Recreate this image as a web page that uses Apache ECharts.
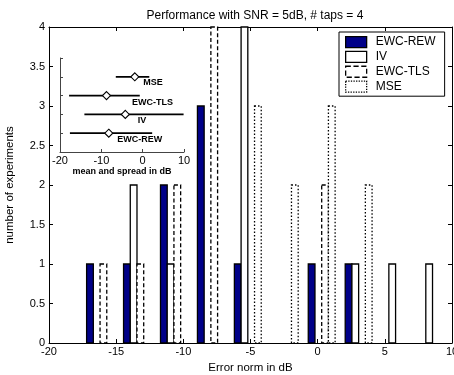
<!DOCTYPE html>
<html><head><meta charset="utf-8">
<script src="https://cdn.jsdelivr.net/npm/echarts@6/dist/echarts.min.js"></script>
<style>html,body{margin:0;padding:0;background:#fff}#c{width:454px;height:375px}</style>
</head><body><div id="c"></div>
<script>
// ---- data ----
const binCenters = [-16.2, -13.45, -10.7, -7.95, -5.2, -2.45, 0.3, 3.05, 5.8, 8.55];
const seriesNames = ['EWC-REW', 'IV', 'EWC-TLS', 'MSE'];
const rewCounts = [1, 1, 2, 3, 1, 0, 1, 1, 0, 0];
const ivCounts  = [0, 2, 1, 0, 4, 0, 0, 1, 1, 1];
const tlsCounts = [1, 1, 2, 4, 0, 0, 2, 0, 0, 0];
const mseCounts = [0, 0, 0, 0, 3, 2, 3, 2, 0, 0];

const insetNames = ['EWC-REW', 'IV', 'EWC-TLS', 'MSE'];
const insetMin  = [-17.6, -14.1, -17.8, -6.5];
const insetMax  = [2.3, 9.9, -0.7, 1.6];
const insetMean = [-8.2, -4.2, -8.75, -1.9];

const titleText = 'Performance with SNR = 5dB, # taps = 4';
const xName = 'Error norm in dB';
const yName = 'number of experiments';
const insetXName = 'mean and spread in dB';

// ---- styles / layout ----
const FONT = '"Liberation Sans", Arial, Helvetica, sans-serif';
const NAVY = '#000088';
const barStyles = [
  {fill: NAVY, dash: null, type: 'solid'},
  {fill: '#fff', dash: null, type: 'solid'},
  {fill: '#fff', dash: [4, 2.5], type: 'dashed'},
  {fill: '#fff', dash: [1.5, 2], type: 'dotted'}
];
const labelOffsets = [[8, 6], [12, 6], [25, 6.5], [8, 6]];

const allCounts = [rewCounts, ivCounts, tlsCounts, mseCounts];
const binW = binCenters[1] - binCenters[0];
const barW = binW / 5.5;  // grouped bars: 4 bars fill 4/5.5 of a bin

function makeBarSeries(k) {
  const st = barStyles[k];
  const data = binCenters.map((c, i) => [c + (k - 1.5) * barW, allCounts[k][i]]);
  return {
    type: 'custom', name: seriesNames[k], xAxisIndex: 0, yAxisIndex: 0,
    itemStyle: {color: st.fill, borderColor: '#000', borderWidth: 1.3, borderType: st.type},
    data: data, z: 3,
    renderItem: function (params, api) {
      const x = api.value(0), n = api.value(1);
      if (!n) return null;
      const p0 = api.coord([x - barW / 2, 0]);
      const p1 = api.coord([x + barW / 2, n]);
      return {
        type: 'rect',
        shape: {x: p0[0], y: p1[1], width: p1[0] - p0[0], height: p0[1] - p1[1]},
        style: {fill: st.fill, stroke: '#000', lineWidth: 1.3, lineDash: st.dash}
      };
    }
  };
}

const series = [0, 1, 2, 3].map(makeBarSeries);

series.push({
  type: 'custom', xAxisIndex: 2, yAxisIndex: 2, z: 4,
  data: insetMin.map((m, i) => [m, insetMax[i], i + 1]),
  encode: {x: [0, 1], y: 2},
  renderItem: function (params, api) {
    const p0 = api.coord([api.value(0), api.value(2)]);
    const p1 = api.coord([api.value(1), api.value(2)]);
    return {type: 'line', shape: {x1: p0[0], y1: p0[1], x2: p1[0], y2: p1[1]},
            style: {stroke: '#000', lineWidth: 1.8}};
  }
});
series.push({
  type: 'scatter', xAxisIndex: 2, yAxisIndex: 2, z: 5,
  symbol: 'diamond', symbolSize: 8,
  itemStyle: {color: '#fff', borderColor: '#000', borderWidth: 1.1, opacity: 1},
  data: insetMean.map((m, i) => ({
    value: [m, i + 1],
    label: {offset: [labelOffsets[i][0] - 4, labelOffsets[i][1]]}
  })),
  label: {
    show: true, position: 'right', distance: 0,
    formatter: p => insetNames[p.dataIndex],
    fontFamily: FONT, fontSize: 9, fontWeight: 'bold', color: '#000'
  },
  emphasis: {disabled: true}
});

const tickLbl = {color: '#000', fontSize: 11, fontFamily: FONT, showMinLabel: true, showMaxLabel: true};

const option = {
  animation: false,
  backgroundColor: '#fff',
  title: {
    text: titleText, left: 250, top: 5, textAlign: 'center',
    textStyle: {fontFamily: FONT, fontSize: 12, fontWeight: 'normal', color: '#000'}
  },
  legend: {
    orient: 'vertical', left: 339, top: 32, selectedMode: false,
    itemWidth: 21, itemHeight: 11, itemGap: 2.5,
    padding: [4, 9, 3.5, 6],
    borderColor: '#000', borderWidth: 1, backgroundColor: '#fff',
    icon: 'rect',
    textStyle: {fontFamily: FONT, fontSize: 12, color: '#000', padding: [0, 0, 0, 4]},
    data: seriesNames.map((n, k) => ({
      name: n, icon: 'rect',
      itemStyle: {color: barStyles[k].fill, borderColor: '#000', borderWidth: 1.3, borderType: barStyles[k].type}
    }))
  },
  grid: [
    {left: 49, top: 27, width: 403, height: 316, outerBoundsMode: 'none'},
    {left: 60, top: 58, width: 124, height: 94, outerBoundsMode: 'none'}
  ],
  xAxis: [
    {gridIndex: 0, type: 'value', min: -20, max: 10, interval: 5, position: 'bottom',
     axisLine: {show: true, onZero: false, lineStyle: {color: '#000', width: 1}},
     axisTick: {show: true, inside: true, length: 4, lineStyle: {color: '#000'}},
     axisLabel: Object.assign({margin: 3}, tickLbl),
     splitLine: {show: false},
     name: xName, nameLocation: 'middle', nameGap: 17,
     nameTextStyle: {fontFamily: FONT, fontSize: 11.5, color: '#000'}},
    {gridIndex: 0, type: 'value', min: -20, max: 10, interval: 5, position: 'top',
     axisLine: {show: true, onZero: false, lineStyle: {color: '#000', width: 1}},
     axisTick: {show: true, inside: true, length: 4, lineStyle: {color: '#000'}},
     axisLabel: {show: false}, splitLine: {show: false}},
    {gridIndex: 1, type: 'value', min: -20, max: 10, interval: 10, position: 'bottom',
     axisLine: {show: true, onZero: false, lineStyle: {color: '#444', width: 1}},
     axisTick: {show: true, inside: true, length: 3, lineStyle: {color: '#444'}},
     axisLabel: Object.assign({margin: 3}, tickLbl),
     splitLine: {show: false},
     name: insetXName, nameLocation: 'middle', nameGap: 15,
     nameTextStyle: {fontFamily: FONT, fontSize: 9, fontWeight: 'bold', color: '#000'}}
  ],
  yAxis: [
    {gridIndex: 0, type: 'value', min: 0, max: 4, interval: 0.5, position: 'left',
     axisLine: {show: true, onZero: false, lineStyle: {color: '#000', width: 1}},
     axisTick: {show: true, inside: true, length: 4, lineStyle: {color: '#000'}},
     axisLabel: Object.assign({margin: 4}, tickLbl),
     splitLine: {show: false},
     name: yName, nameLocation: 'middle', nameGap: 33,
     nameTextStyle: {fontFamily: FONT, fontSize: 11.5, color: '#000'}},
    {gridIndex: 0, type: 'value', min: 0, max: 4, interval: 0.5, position: 'right',
     axisLine: {show: true, onZero: false, lineStyle: {color: '#000', width: 1}},
     axisTick: {show: true, inside: true, length: 4, lineStyle: {color: '#000'}},
     axisLabel: {show: false}, splitLine: {show: false}},
    {gridIndex: 1, type: 'value', min: 0, max: 5, interval: 1, position: 'left',
     axisLine: {show: true, onZero: false, lineStyle: {color: '#444', width: 1}},
     axisTick: {show: true, inside: true, length: 3, lineStyle: {color: '#444'}},
     axisLabel: {show: false}, splitLine: {show: false}}
  ],
  series: series
};

const chart = echarts.init(document.getElementById('c'), null, {renderer: 'canvas'});
chart.setOption(option);
</script>
</body></html>
